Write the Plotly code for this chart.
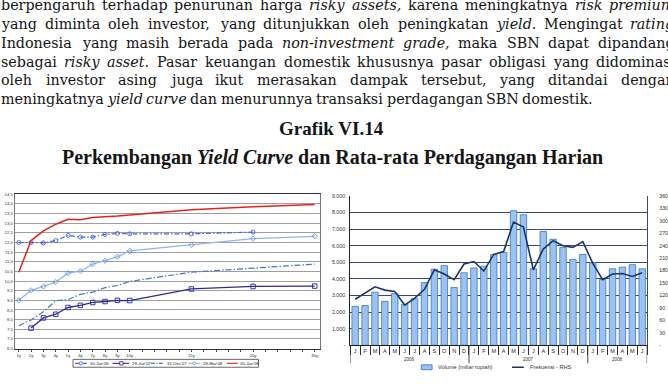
import re
import plotly.graph_objects as go

W, H = 668, 387

# ---------------- DATA ----------------
# Left chart: yield curves (percent)
tenor_labels = ["1y", "2y", "3y", "4y", "5y", "6y", "7y", "8y", "9y", "10y", "15y", "20y", "30y"]
tenor_slot = [1, 2, 3, 4, 5, 6, 7, 8, 9, 10, 15, 20, 25]
curve_names = ["30-Jun'06", "29-Jun'07", "31-Dec'07", "28-Mar'08", "30-Jun'08"]
yc_jun06 = [12.00, 12.00, 11.98, 12.10, 12.37, 12.28, 12.28, 12.42, 12.47, 12.45, 12.45, 12.54, None]
yc_jun07 = [None, 7.56, 8.09, 8.28, 8.63, 8.74, 8.89, 8.94, 9.00, 8.99, 9.59, 9.72, 9.74]
yc_dec07 = [7.68, 7.98, 8.41, 8.98, 9.04, 9.31, 9.43, 9.66, 9.77, 9.98, 10.46, 10.68, 10.88]
yc_mar08 = [9.00, 9.52, 9.72, 9.95, 10.41, 10.51, 10.88, 11.05, 11.26, 11.57, 11.87, 12.20, 12.32]
yc_jun08 = [10.46, 12.10, 12.60, 12.95, 13.20, 13.18, 13.30, 13.32, 13.37, 13.42, 13.70, 13.85, 13.97]

# Right chart: daily average trading of government bonds
months = ["J", "F", "M", "A", "M", "J", "J", "A", "S", "O", "N", "D",
          "J", "F", "M", "A", "M", "J", "J", "A", "S", "O", "N", "D",
          "J", "F", "M", "A", "M", "J"]
years = ["2006"] * 12 + ["2007"] * 12 + ["2008"] * 6
volume = [2340, 2400, 3200, 2650, 3120, 2470, 2810, 3780, 4590, 4800, 3480, 4370,
          4660, 4770, 5460, 5600, 8110, 7870, 4610, 6860, 6390, 5900, 5180, 5480,
          4980, 3960, 4610, 4710, 4860, 4610]
frekuensi = [111, 125, 141, 133, 130, 97, 113, 135, 182, 172, 158, 196,
             202, 179, 219, 226, 297, 285, 182, 232, 252, 240, 236, 250,
             198, 158, 172, 173, 166, 175]
bar_name = "Volume (miliar rupiah)"
line_name = "Frekuensi - RHS"

# Text
body_lines = [
    "berpengaruh terhadap penurunan harga <i>risky</i> <i>assets,</i> karena meningkatnya <i>risk</i> <i>premium</i>",
    "yang diminta oleh investor, yang ditunjukkan oleh peningkatan <i>yield</i>. Mengingat <i>rating</i>",
    "Indonesia yang masih berada pada <i>non-investment</i> <i>grade,</i> maka SBN dapat dipandang",
    "sebagai <i>risky</i> <i>asset</i>. Pasar keuangan domestik khususnya pasar obligasi yang didominasi",
    "oleh investor asing juga ikut merasakan dampak tersebut, yang ditandai dengan",
    "meningkatnya <i>yield</i> <i>curve</i> dan menurunnya transaksi perdagangan SBN domestik.",
]
title1 = "Grafik VI.14"
title2 = "Perkembangan <i>Yield Curve</i> dan Rata-rata Perdagangan Harian"


# ---------------- helpers ----------------
def px(x):
    return x / W


def py(y):
    return 1 - y / H


CW = {' ': 318, 'a': 596, 'b': 640, 'c': 560, 'd': 640, 'e': 592, 'f': 370, 'g': 640, 'h': 644,
      'i': 320, 'j': 310, 'k': 606, 'l': 320, 'm': 948, 'n': 644, 'o': 602, 'p': 640, 'q': 640,
      'r': 478, 's': 513, 't': 402, 'u': 644, 'v': 565, 'w': 856, 'x': 564, 'y': 565, 'z': 525,
      'I': 470, 'M': 995, 'N': 812, 'P': 676, 'S': 685, 'B': 732, ',': 318, '.': 318, '-': 338}
BODY_FS = 14.3


def tok_w(tok):
    s = re.sub(r"<[^>]+>", "", tok)
    return sum(CW.get(c, 600) for c in s) / 1000 * BODY_FS


fig = go.Figure()

# ---------------- LEFT CHART ----------------
curve_vals = [yc_jun06, yc_jun07, yc_dec07, yc_mar08, yc_jun08]
curve_styles = [
    dict(line=dict(color="#4563E6", width=1.2, dash="5px,2px,1.5px,2px"),
         marker=dict(symbol="circle-open", size=4, color="#4563E6", line=dict(width=0.9)), mode="lines+markers"),
    dict(line=dict(color="#2D2D8E", width=1.3),
         marker=dict(symbol="square-open", size=4.5, color="#3838A8", line=dict(width=1)), mode="lines+markers"),
    dict(line=dict(color="#3A7BD0", width=1.2, dash="6px,2px,1.5px,2px"), mode="lines"),
    dict(line=dict(color="#8DB7F0", width=1.3),
         marker=dict(symbol="diamond-open", size=4, color="#5E82E8", line=dict(width=0.8)), mode="lines+markers"),
    dict(line=dict(color="#E5231E", width=1.5), mode="lines"),
]
for name, vals, st in zip(curve_names, curve_vals, curve_styles):
    fig.add_trace(go.Scatter(x=tenor_slot, y=vals, name=name, xaxis="x", yaxis="y",
                             showlegend=False, **st))

# ---------------- RIGHT CHART ----------------
idx = list(range(len(volume)))
fig.add_trace(go.Bar(x=idx, y=volume, name=bar_name, xaxis="x2", yaxis="y2", showlegend=False,
                     marker=dict(color="#9BC3F1", line=dict(color="#3C72C6", width=0.8))))
fig.add_trace(go.Scatter(x=idx, y=frekuensi, name=line_name, xaxis="x2", yaxis="y3", mode="lines",
                         showlegend=False, line=dict(color="#1C3569", width=1.6)))

# ---------------- AXES ----------------
slot_text = {s: l for s, l in zip(tenor_slot, tenor_labels)}
all_slots = list(range(1, max(tenor_slot) + 1))
ytick_left = [6.5 + 0.5 * i for i in range(17)]

small = dict(family="Liberation Sans, Arial", color="#333")

layout = dict(
    width=W, height=H, margin=dict(l=0, r=0, t=0, b=0),
    paper_bgcolor="white", plot_bgcolor="white",
    bargap=0.35, separators=",.",
    xaxis=dict(domain=[px(15), px(324)], range=[0.68, 25.4], anchor="y",
               tickmode="array", tickvals=all_slots,
               ticktext=[slot_text.get(s, "") for s in all_slots],
               ticks="outside", ticklen=2.5, tickwidth=0.6, tickcolor="#444",
               tickfont=dict(size=4.3, **small), showgrid=False, zeroline=False,
               showline=True, linecolor="#333", linewidth=1, mirror=True),
    yaxis=dict(domain=[py(351), py(194.3)], range=[6.5, 14.5], anchor="x",
               tickmode="array", tickvals=ytick_left,
               ticktext=[f"{v:.1f}".replace(".", ",") for v in ytick_left],
               tickfont=dict(size=4.3, **small), ticks="", showgrid=True,
               gridcolor="#9E9E9E", gridwidth=1, zeroline=False,
               showline=True, linecolor="#777", linewidth=1, mirror=True),
    xaxis2=dict(domain=[px(355), px(656)], range=[-0.5, len(volume) - 0.5], anchor="y2",
                tickmode="array", tickvals=idx, ticktext=months, ticks="",
                tickfont=dict(size=5.5, family="Liberation Sans, Arial", color="#222"),
                minor=dict(tickmode="array", tickvals=[i - 0.5 for i in range(len(volume) + 1)],
                           ticks="outside", ticklen=9, tickwidth=0.8, tickcolor="#333", showgrid=False),
                showgrid=False, zeroline=False, showline=True, linecolor="#222", linewidth=1),
    yaxis2=dict(domain=[py(347.7), py(196)], range=[0, 9000], anchor="x2",
                tickmode="array", tickvals=[1000 * i for i in range(10)],
                ticktext=["-"] + [f"{i}.000" for i in range(1, 10)],
                tickfont=dict(size=5.3, family="Liberation Sans, Arial", color="#333"),
                showgrid=True, gridcolor="#3A4877", gridwidth=1.1, zeroline=False,
                showline=True, linecolor="#222", linewidth=1, ticks="", ticklabelstandoff=3),
    yaxis3=dict(overlaying="y2", side="right", anchor="x2", range=[0, 360],
                tickmode="array", tickvals=[30 * i for i in range(13)],
                ticktext=["-"] + [str(30 * i) for i in range(1, 13)],
                tickfont=dict(size=5.3, family="Liberation Sans, Arial", color="#333"),
                showgrid=False, zeroline=False, showline=True, linecolor="#3A4877", linewidth=1,
                ticks="", ticklabelstandoff=10),
)
fig.update_layout(**layout)

annotations = []
shapes = []

# ---------------- BODY TEXT (justified word placement) ----------------
line_centers = [2.5, 21.5, 40.5, 59.5, 78.5, 97.5]
right_edge = 682
for li, (line, yc) in enumerate(zip(body_lines, line_centers)):
    toks = line.split(" ")
    widths = [tok_w(t) for t in toks]
    last = li == len(body_lines) - 1
    if last or len(toks) < 2:
        gap = CW[' '] / 1000 * BODY_FS
    else:
        gap = (right_edge - sum(widths)) / (len(toks) - 1)
    x = 0.0
    for t, w in zip(toks, widths):
        annotations.append(dict(x=px(x), y=py(yc), xref="paper", yref="paper", text=t,
                                showarrow=False, xanchor="left", yanchor="middle", borderpad=0,
                                font=dict(family="DejaVu Serif", size=BODY_FS, color="#151515")))
        x += w + gap

annotations.append(dict(x=px(336), y=py(127), xref="paper", yref="paper", text=f"<b>{title1}</b>",
                        showarrow=False, xanchor="center", yanchor="middle",
                        font=dict(family="Liberation Serif", size=19, color="#151515")))
annotations.append(dict(x=px(337), y=py(156.5), xref="paper", yref="paper", text=f"<b>{title2}</b>",
                        showarrow=False, xanchor="center", yanchor="middle",
                        font=dict(family="Liberation Serif", size=20, color="#151515")))

# ---------------- LEFT LEGEND (drawn) ----------------
shapes.append(dict(type="rect", xref="paper", yref="paper", x0=px(74), x1=px(262), y0=py(370), y1=py(362),
                   line=dict(color="#444", width=0.8), fillcolor="white"))
leg_y = 366
leg_items = [(76, 88, 82, 90), (114, 131, 123, 132.5), (153, 166, None, 168), (191, 203, 197, 204.5), (230, 241, None, 242.5)]
marker_kind = ["circle", "square", None, "diamond", None]
for (x0, x1, mx, tx), st, kind, name in zip(leg_items, curve_styles, marker_kind, curve_names):
    shapes.append(dict(type="line", xref="paper", yref="paper", x0=px(x0), x1=px(x1), y0=py(leg_y), y1=py(leg_y),
                       line=dict(color=st["line"]["color"], width=1.1,
                                 dash="4px,1.5px,1px,1.5px" if "dash" in st["line"] else "solid")))
    if kind:
        mc = st["marker"]["color"]
        r = 1.7
        if kind == "circle":
            shapes.append(dict(type="circle", xref="paper", yref="paper", x0=px(mx - r), x1=px(mx + r),
                               y0=py(leg_y + r), y1=py(leg_y - r), line=dict(color=mc, width=0.8), fillcolor="white"))
        elif kind == "square":
            shapes.append(dict(type="rect", xref="paper", yref="paper", x0=px(mx - r), x1=px(mx + r),
                               y0=py(leg_y + r), y1=py(leg_y - r), line=dict(color=mc, width=0.9), fillcolor="white"))
        else:
            path = (f"M {px(mx - r)} {py(leg_y)} L {px(mx)} {py(leg_y - r)} "
                    f"L {px(mx + r)} {py(leg_y)} L {px(mx)} {py(leg_y + r)} Z")
            shapes.append(dict(type="path", xref="paper", yref="paper", path=path,
                               line=dict(color=mc, width=0.8), fillcolor="white"))
    annotations.append(dict(x=px(tx), y=py(leg_y), xref="paper", yref="paper", text=name, showarrow=False,
                            xanchor="left", yanchor="middle", borderpad=0,
                            font=dict(size=4.3, family="Liberation Sans, Arial", color="#222")))

# ---------------- RIGHT CHART decorations ----------------
year_list = []
for yv in years:
    if yv not in year_list:
        year_list.append(yv)
bounds = [-0.5]
for yv in year_list:
    pos = [i for i, v in enumerate(years) if v == yv]
    bounds.append(max(pos) + 0.5)
    annotations.append(dict(x=(min(pos) + max(pos)) / 2, y=py(362), xref="x2", yref="paper", text=yv,
                            showarrow=False, xanchor="center", yanchor="middle",
                            font=dict(size=4.5, family="Liberation Sans, Arial", color="#333")))
for b in bounds:
    shapes.append(dict(type="line", xref="x2", yref="paper", x0=b, x1=b, y0=py(347.7), y1=py(366),
                       line=dict(color="#333", width=0.9)))

# right legend
shapes.append(dict(type="rect", xref="paper", yref="paper", x0=px(427), x1=px(438), y0=py(372.5), y1=py(367.5),
                   fillcolor="#9BC3F1", line=dict(color="#3C72C6", width=0.8)))
annotations.append(dict(x=px(443), y=py(370), xref="paper", yref="paper", text=bar_name, showarrow=False,
                        xanchor="left", yanchor="middle", borderpad=0,
                        font=dict(size=5.6, family="Liberation Sans, Arial", color="#333")))
shapes.append(dict(type="line", xref="paper", yref="paper", x0=px(519), x1=px(531), y0=py(370), y1=py(370),
                   line=dict(color="#1C3569", width=1.5)))
annotations.append(dict(x=px(536), y=py(370), xref="paper", yref="paper", text=line_name, showarrow=False,
                        xanchor="left", yanchor="middle", borderpad=0,
                        font=dict(size=5.6, family="Liberation Sans, Arial", color="#333")))

fig.update_layout(annotations=annotations, shapes=shapes)
fig.write_html("out.html")
